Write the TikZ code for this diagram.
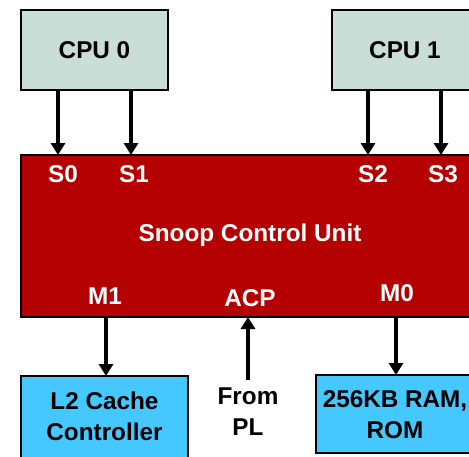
\documentclass[tikz,border=0pt]{standalone}
\usepackage{fontspec}
\setmainfont{Liberation Sans}
\usetikzlibrary{arrows.meta}
\definecolor{cpufill}{RGB}{200,222,214}
\definecolor{scured}{RGB}{180,0,0}
\definecolor{memblue}{RGB}{69,200,255}
\tikzset{
  box/.style={draw=black, line width=2pt, inner sep=0pt},
  lbl/.style={font=\bfseries\fontsize{24.3}{27}\selectfont, inner sep=0pt, align=center},
  wlbl/.style={lbl, text=white},
  conn/.style={line width=3.8pt, -{Triangle[length=12pt,width=14pt]}},
}
\begin{document}
\begin{tikzpicture}[x=1pt,y=-1pt]
\useasboundingbox (0,0) rectangle (469,456);
\clip (0,0) rectangle (469,456);
% boxes
\draw[box, fill=cpufill] (21,10) rectangle (168,90);
\node[lbl] (cpu0) at (94.5,50) {CPU 0};
\draw[box, fill=cpufill] (332,10) rectangle (479,90);
\node[lbl] (cpu1) at (405,50) {CPU 1};
\draw[box, fill=scured] (21,155) rectangle (485,317);
\node[wlbl] (scu) at (250,235) {Snoop Control Unit};
\draw[box, fill=memblue] (21,376) rectangle (188,470);
\node[lbl] (l2) at (104.5,416) {L2 Cache\\[4pt]Controller};
\draw[box, fill=memblue] (316,375) rectangle (476,453);
\node[lbl] (ram) at (395,415) {256KB RAM,\\[4pt]ROM};
\node[lbl] (pl) at (248,412) {From\\[4pt]PL};
% port labels
\node[wlbl] (s0) at (63,174) {S0};
\node[wlbl] (s1) at (134,174) {S1};
\node[wlbl] (s2) at (373,174) {S2};
\node[wlbl] (s3) at (443,174) {S3};
\node[wlbl] (m1) at (105,296) {M1};
\node[wlbl] (acp) at (250,298) {ACP};
\node[wlbl] (m0) at (397,293) {M0};
% connector endpoints
\coordinate (c0a) at (58,90);  \coordinate (s0t) at (58,155);
\coordinate (c0b) at (131,90); \coordinate (s1t) at (131,155);
\coordinate (c1a) at (368,90); \coordinate (s2t) at (368,155);
\coordinate (c1b) at (441,90); \coordinate (s3t) at (441,155);
\coordinate (m1b) at (106,317); \coordinate (l2t) at (106,376);
\coordinate (m0b) at (396,317); \coordinate (ramt) at (396,375);
\coordinate (plt) at (248,380); \coordinate (acpb) at (248,317);
\draw[conn] (c0a) -- (s0t);
\draw[conn] (c0b) -- (s1t);
\draw[conn] (c1a) -- (s2t);
\draw[conn] (c1b) -- (s3t);
\draw[conn] (m1b) -- (l2t);
\draw[conn] (m0b) -- (ramt);
\draw[conn] (plt) -- (acpb);
\end{tikzpicture}
\end{document}
